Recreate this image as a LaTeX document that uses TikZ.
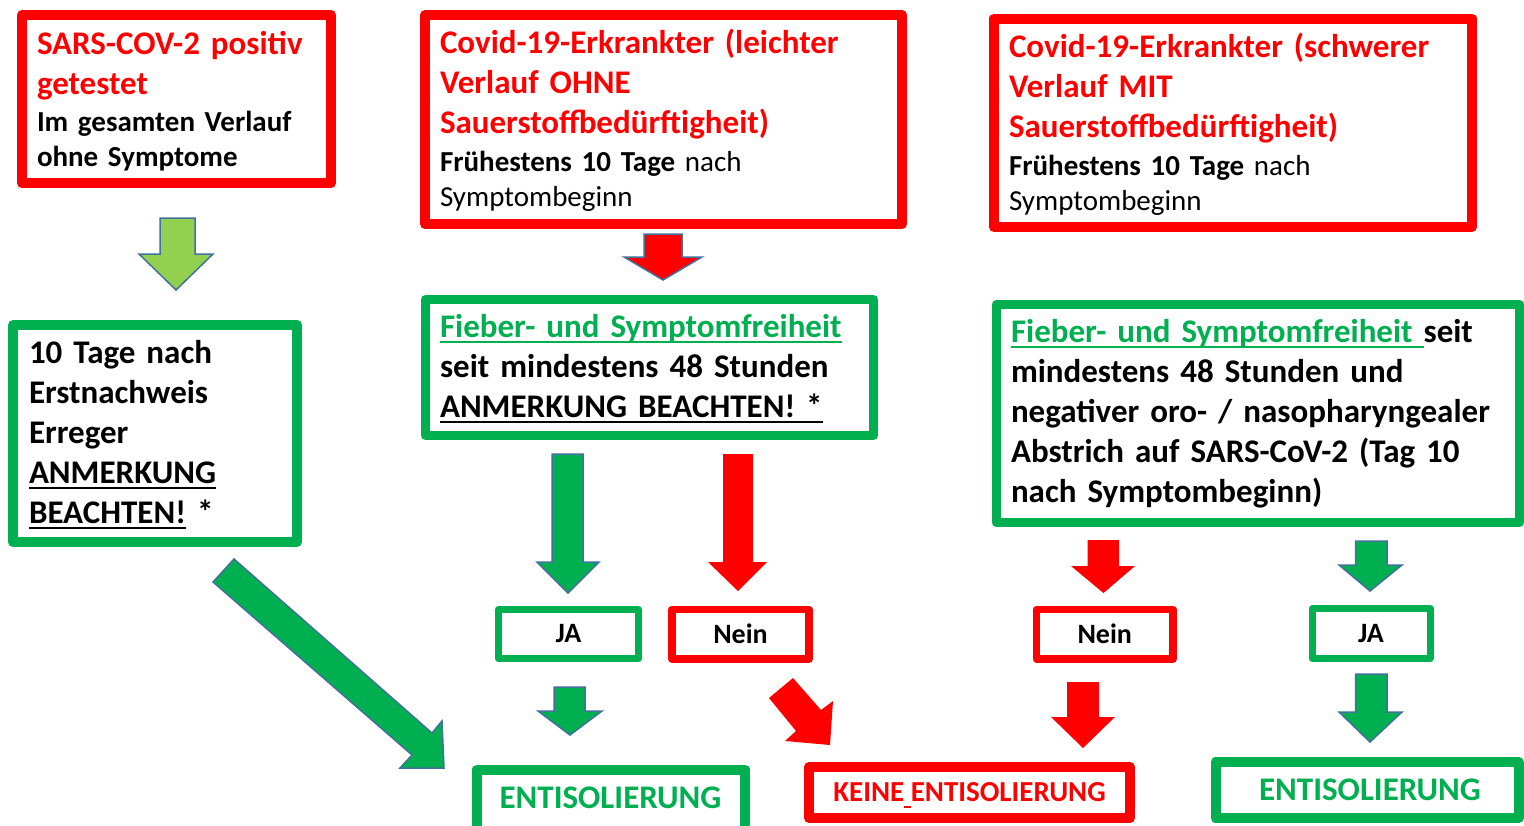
\documentclass[tikz,border=0pt]{standalone}
\usepackage{fontspec}
\setmainfont{Carlito}
\definecolor{pred}{HTML}{FF0000}
\definecolor{pgreen}{HTML}{00B050}
\definecolor{lgreen}{HTML}{92D050}
\definecolor{aout}{HTML}{41719C}
\newsavebox{\ulbox}
\newcommand{\myul}[1]{\leavevmode\sbox{\ulbox}{#1}\rlap{\raisebox{-6.2pt}[0pt][0pt]{\rule{\wd\ulbox}{2.4pt}}}\usebox{\ulbox}}
\newcommand{\dnarrow}[9]{\draw[#1] (#2,#4) -- (#3,#4) -- (#3,#5) -- (#7,#5) -- (#8,#9) -- (#6,#5) -- (#2,#5) -- cycle;}
\tikzset{
  boxbase/.style={draw, inner sep=0pt, outer sep=0pt, line join=round, fill=white},
  redbox/.style={boxbase, draw=pred, line width=10pt},
  greenbox/.style={boxbase, draw=pgreen, line width=10pt},
  txt/.style={anchor=base west, inner sep=0pt, outer sep=0pt, text width=520pt, align=left},
  bigred/.style={txt, text=pred, font=\fontsize{33}{40}\selectfont\bfseries},
  smallblack/.style={txt, text=black, font=\fontsize{29}{35}\selectfont},
  bigblack/.style={txt, text=black, font=\fontsize{33}{40}\selectfont\bfseries},
  lgarrow/.style={fill=lgreen, draw=aout, line width=1.5pt, line join=miter},
  garrow/.style={fill=pgreen, draw=aout, line width=1.5pt, line join=miter},
  rarrowo/.style={fill=pred, draw=aout, line width=1.5pt, line join=miter},
  rarrow/.style={fill=pred, draw=none},
  yesno/.style={font=\fontsize{28}{34}\selectfont\bfseries, text=black}
}
\begin{document}
\begin{tikzpicture}[x=1pt, y=-1pt]
\useasboundingbox[fill=white] (0,0) rectangle (1524,825);

% ---------- top row (red boxes) ----------
\node[redbox, minimum width=309pt, minimum height=168pt] (b1) at (176.5,99) {};
\node[bigred] (t1r) at (37,54) {SARS-COV-2 positiv\\getestet};
\node[smallblack, font=\fontsize{29}{35}\selectfont\bfseries] (t1k) at (37,131) {Im gesamten Verlauf\\ohne Symptome};

\node[redbox, minimum width=477pt, minimum height=209pt] (b2) at (663.5,119.5) {};
\node[bigred] (t2r) at (440,53) {Covid-19-Erkrankter (leichter\\Verlauf OHNE\\Sauerstoffbedürftigheit)};
\node[smallblack] (t2k) at (440,171) {\textbf{Frühestens 10 Tage} nach\\Symptombeginn};

\node[redbox, minimum width=478pt, minimum height=208.5pt] (b3) at (1233,122.75) {};
\node[bigred] (t3r) at (1009,57) {Covid-19-Erkrankter (schwerer\\Verlauf MIT\\Sauerstoffbedürftigheit)};
\node[smallblack] (t3k) at (1009,175) {\textbf{Frühestens 10 Tage} nach\\Symptombeginn};

% ---------- middle row (green boxes) ----------
\node[greenbox, minimum width=284pt, minimum height=217pt] (b4) at (155,433.5) {};
\node[bigblack] (t4) at (29,363) {10 Tage nach\\Erstnachweis\\Erreger\\\myul{ANMERKUNG}\\\myul{BEACHTEN!} *};

\node[greenbox, line width=9pt, minimum width=448pt, minimum height=136pt] (b5) at (649.5,367.5) {};
\node[bigblack] (t5) at (440,337) {{\color{pgreen}\myul{Fieber- und Symptomfreiheit}}\\seit mindestens 48 Stunden\\\myul{ANMERKUNG BEACHTEN! *}};

\node[greenbox, line width=9pt, minimum width=523.5pt, minimum height=218.5pt] (b6) at (1257.75,413.25) {};
\node[bigblack] (t6) at (1011,342) {{\color{pgreen}\myul{Fieber- und Symptomfreiheit\ }}seit\\mindestens 48 Stunden und\\negativer oro- / nasopharyngealer\\Abstrich auf SARS-CoV-2 (Tag 10\\nach Symptombeginn)};

% ---------- yes / no boxes ----------
\node[greenbox, line width=7pt, minimum width=140pt, minimum height=49pt, yesno] (ja1) at (568.5,634) {JA};
\node[redbox, line width=7.5pt, minimum width=137pt, minimum height=49.5pt, yesno] (nein1) at (740.5,634.25) {Nein};
\node[redbox, line width=7.5pt, minimum width=136.5pt, minimum height=49.5pt, yesno] (nein2) at (1104.75,634.25) {Nein};
\node[greenbox, line width=7pt, minimum width=118pt, minimum height=50pt, yesno] (ja2) at (1371,633.5) {JA};

% ---------- result boxes ----------
\node[greenbox, minimum width=268pt, minimum height=71pt] (ent1) at (611,805) {};
\node[anchor=base, inner sep=0pt, text=pgreen, font=\fontsize{33}{40}\selectfont\bfseries] (ent1t) at (610.5,808) {ENTISOLIERUNG};
\node[redbox, minimum width=321pt, minimum height=51pt, text=pred, font=\fontsize{29}{35}\selectfont\bfseries] (keine) at (969.5,792.5) {KEINE\myul{\ }ENTISOLIERUNG};
\node[greenbox, minimum width=303pt, minimum height=56pt, text=pgreen, font=\fontsize{33}{40}\selectfont\bfseries, text depth=0pt] (ent2) at (1367,790) {\hspace*{6pt}ENTISOLIERUNG};

% ---------- block arrows ----------
\dnarrow{lgarrow}{160}{195}{218}{254}{139}{213}{176}{290}
\dnarrow{rarrowo}{644}{682}{234}{257}{624}{702}{663}{280}
\draw[garrow] (234,559) -- (432,733) -- (442,721) -- (444,768) -- (400,768) -- (412,755) -- (213,582) -- cycle;
\dnarrow{garrow}{552}{583}{454}{562}{537}{599}{568}{593}
\dnarrow{rarrow}{723}{753}{454}{562}{708}{767}{738}{591}
\dnarrow{garrow}{554}{585}{687}{711}{538}{602}{570}{735}
\fill[pred] (769,698) -- (793,678) -- (821,710) -- (833,701) -- (830,745) -- (785,741) -- (796,731) -- cycle;
\dnarrow{rarrow}{1087.5}{1119}{540}{566}{1071}{1135}{1103.5}{593}
\dnarrow{garrow}{1355.5}{1387}{541}{565}{1339}{1402}{1370}{591}
\dnarrow{rarrow}{1067}{1099}{682}{717}{1051}{1115}{1083}{748}
\dnarrow{garrow}{1355.5}{1387}{674}{712}{1339}{1402}{1370}{742}
\end{tikzpicture}
\end{document}
